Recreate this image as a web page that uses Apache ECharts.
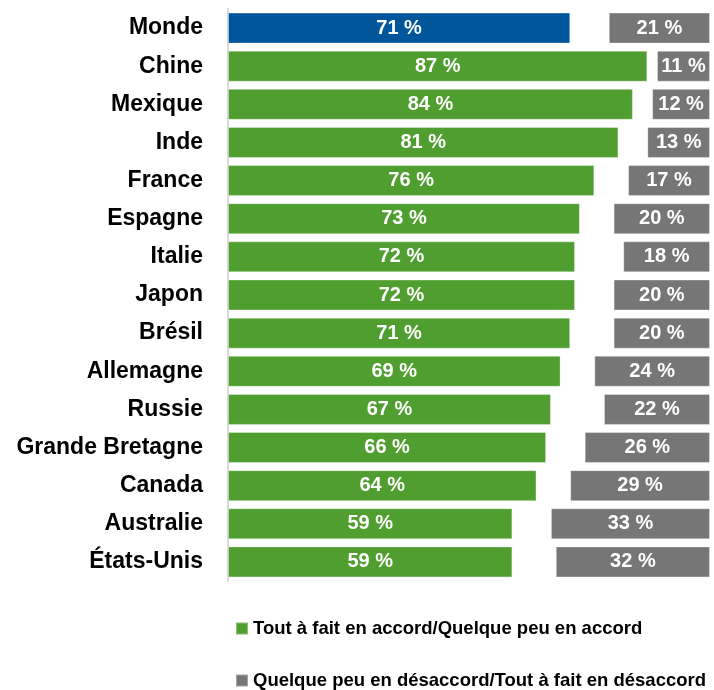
<!DOCTYPE html>
<html>
<head>
<meta charset="utf-8">
<script src="https://cdn.jsdelivr.net/npm/echarts@6/dist/echarts.min.js"></script>
<style>
  html, body { margin: 0; padding: 0; background: #fff; }
  #chart { width: 714px; height: 690px; }
</style>
</head>
<body>
<div id="chart"></div>
<script>
var countries = ['Monde', 'Chine', 'Mexique', 'Inde', 'France', 'Espagne', 'Italie', 'Japon',
    'Brésil', 'Allemagne', 'Russie', 'Grande Bretagne', 'Canada', 'Australie', 'États-Unis'];
var agree = [71, 87, 84, 81, 76, 73, 72, 72, 71, 69, 67, 66, 64, 59, 59];
var disagree = [21, 11, 12, 13, 17, 20, 18, 20, 20, 24, 22, 26, 29, 33, 32];
var seriesNames = ['Tout à fait en accord/Quelque peu en accord',
    'Quelque peu en désaccord/Tout à fait en désaccord'];

var green = '#4f9e2f';
var blue = '#00569a';
var grey = '#767676';

// Monde is drawn in blue, the rest in green
var agreeData = agree.map(function (v, i) {
    if (i === 0) {
        return { value: v, itemStyle: { color: blue } };
    }
    return v;
});
// invisible spacer so the grey bars end at 100
var gap = agree.map(function (v, i) {
    return 100 - v - disagree[i];
});

var valueLabel = {
    show: true,
    position: 'inside',
    color: '#fff',
    fontFamily: 'Liberation Sans, Arial',
    fontWeight: 'bold',
    fontSize: 20,
    formatter: '{c} %'
};

var legendText = {
    color: '#000',
    fontFamily: 'Liberation Sans, Arial',
    fontWeight: 'bold',
    fontSize: 18.5
};

var myChart = echarts.init(document.getElementById('chart'));
var option = {
    animation: false,
    grid: { left: 228, right: 4, top: 9, height: 572 },
    legend: [{
        left: 230,
        top: 614,
        itemWidth: 12,
        itemHeight: 12,
        icon: 'rect',
        data: [seriesNames[0]],
        textStyle: legendText
    }, {
        left: 230,
        top: 666,
        itemWidth: 12,
        itemHeight: 12,
        icon: 'rect',
        data: [seriesNames[1]],
        textStyle: legendText
    }],
    xAxis: {
        type: 'value',
        min: 0,
        max: 100,
        show: false
    },
    yAxis: {
        type: 'category',
        inverse: true,
        data: countries,
        axisLine: { show: true, lineStyle: { color: '#d9d9d9', width: 2 } },
        axisTick: { show: false },
        axisLabel: {
            margin: 25,
            color: '#000',
            fontFamily: 'Liberation Sans, Arial',
            fontWeight: 'bold',
            fontSize: 23
        }
    },
    series: [{
        name: seriesNames[0],
        type: 'bar',
        stack: 'total',
        barWidth: 31,
        itemStyle: { color: green, borderColor: 'rgba(255,255,255,0.35)', borderWidth: 1 },
        label: valueLabel,
        data: agreeData
    }, {
        name: 'gap',
        type: 'bar',
        stack: 'total',
        barWidth: 31,
        itemStyle: { color: 'transparent' },
        silent: true,
        data: gap
    }, {
        name: seriesNames[1],
        type: 'bar',
        stack: 'total',
        barWidth: 31,
        itemStyle: { color: grey, borderColor: 'rgba(255,255,255,0.35)', borderWidth: 1 },
        label: valueLabel,
        data: disagree
    }]
};
myChart.setOption(option);
</script>
</body>
</html>
